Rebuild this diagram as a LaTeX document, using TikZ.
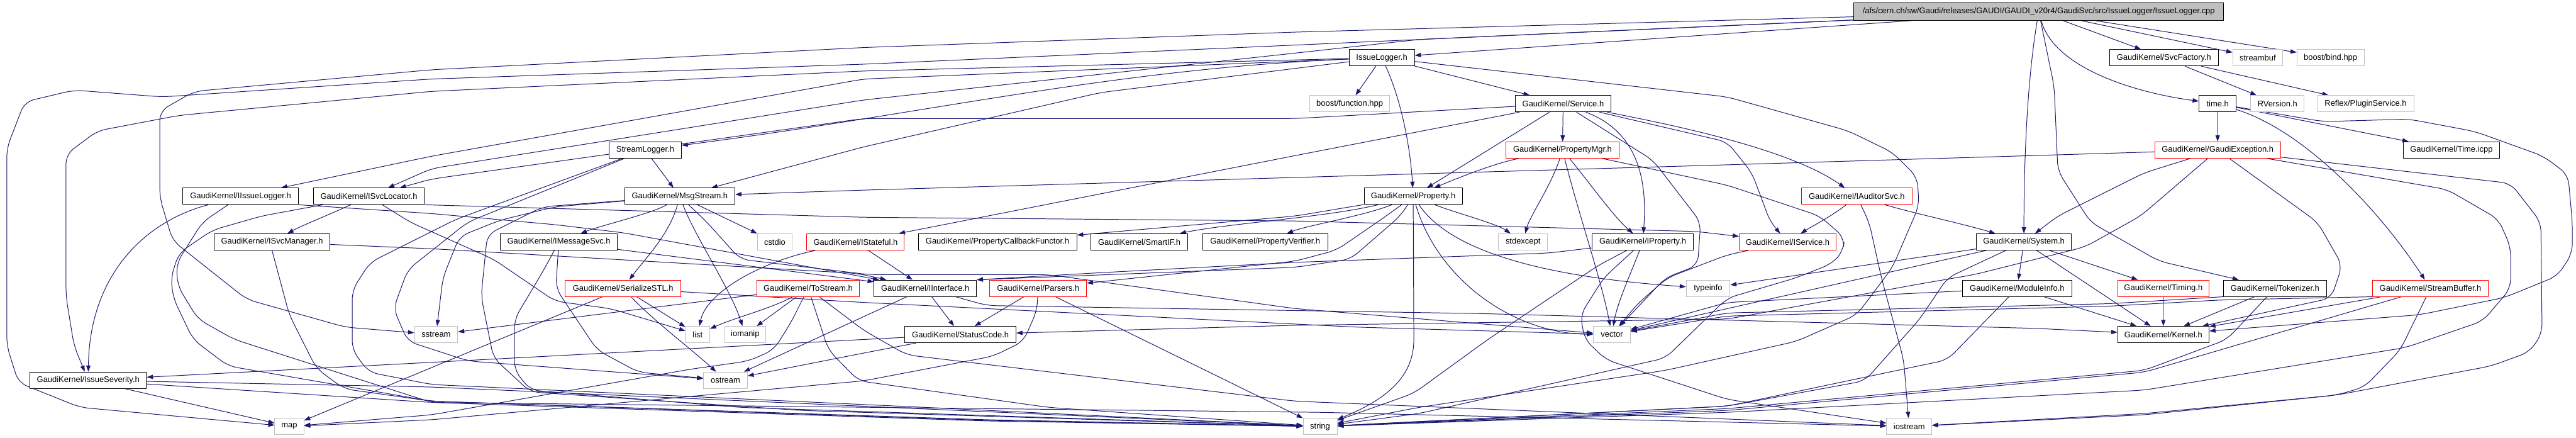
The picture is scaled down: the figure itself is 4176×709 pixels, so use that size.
\documentclass[tikz,border=0pt]{standalone}
\usepackage{fontspec}
\setmainfont{Liberation Sans}
\usetikzlibrary{arrows.meta}
\pgfdeclarelayer{bg}
\pgfsetlayers{bg,main}
\definecolor{edgec}{HTML}{191970}
\definecolor{grayb}{HTML}{BFBFBF}
\begin{document}
\begin{tikzpicture}[x=1pt,y=-1pt,
  nb/.style={draw=black, line width=1pt, rectangle, inner sep=0pt, minimum height=26.5pt, fill=white, font=\fontsize{13.2}{15}\selectfont},
  nred/.style={nb, draw=red},
  ngray/.style={nb, draw=grayb},
  edg/.style={draw=edgec, line width=1pt, -{Triangle[length=10pt,width=7pt]}},
  edgr/.style={edg, rounded corners=15pt}]
\useasboundingbox (0,0) rectangle (4176,709);
% ---------- nodes ----------
\node[nb, fill=grayb, minimum width=600pt, minimum height=28pt] (root) at (3305,19) {/afs/cern.ch/sw/Gaudi/releases/GAUDI/GAUDI\_v20r4/GaudiSvc/src/IssueLogger/IssueLogger.cpp};
% row 2
\node[nb, minimum width=106pt] (issuelogger) at (2240,93.5) {IssueLogger.h};
\node[nb, minimum width=176pt] (svcfactory) at (3508,93.5) {GaudiKernel/SvcFactory.h};
\node[ngray, minimum width=81pt] (streambuf) at (3660,93.5) {streambuf};
\node[ngray, minimum width=109pt] (bind) at (3778,93.5) {boost/bind.hpp};
% row 3
\node[ngray, minimum width=129pt] (function) at (2188,168) {boost/function.hpp};
\node[nb, minimum width=155pt] (service) at (2534,168) {GaudiKernel/Service.h};
\node[nb, minimum width=60pt] (timeh) at (3595,168) {time.h};
\node[ngray, minimum width=87pt] (rversion) at (3692,168) {RVersion.h};
\node[ngray, minimum width=156pt] (plugin) at (3835,168) {Reflex/PluginService.h};
% row 4
\node[nb, minimum width=117pt] (streamlogger) at (1046,243) {StreamLogger.h};
\node[nred, minimum width=183pt] (propmgr) at (2533,243) {GaudiKernel/PropertyMgr.h};
\node[nred, minimum width=204pt] (gexc) at (3595,243) {GaudiKernel/GaudiException.h};
\node[nb, minimum width=156pt] (timeicpp) at (3974,243) {GaudiKernel/Time.icpp};
% row 5
\node[nb, minimum width=187pt] (iissuelogger) at (390,318) {GaudiKernel/IIssueLogger.h};
\node[nb, minimum width=180pt] (isvcloc) at (598,318) {GaudiKernel/ISvcLocator.h};
\node[nb, minimum width=179pt] (msgstream) at (1102,318) {GaudiKernel/MsgStream.h};
\node[nb, minimum width=159pt] (property) at (2291,318) {GaudiKernel/Property.h};
\node[nred, minimum width=180pt] (iauditor) at (3010,318) {GaudiKernel/IAuditorSvc.h};
% row 6
\node[nb, minimum width=188pt] (isvcmgr) at (441,392) {GaudiKernel/ISvcManager.h};
\node[nb, minimum width=189pt] (imsgsvc) at (906,392) {GaudiKernel/IMessageSvc.h};
\node[ngray, minimum width=57pt] (cstdio) at (1256,392) {cstdio};
\node[nred, minimum width=158pt] (istateful) at (1387,392) {GaudiKernel/IStateful.h};
\node[nb, minimum width=257pt] (pcbf) at (1617,392) {GaudiKernel/PropertyCallbackFunctor.h};
\node[nb, minimum width=157pt] (smartif) at (1847,392) {GaudiKernel/SmartIF.h};
\node[nb, minimum width=203pt] (pverifier) at (2051,392) {GaudiKernel/PropertyVerifier.h};
\node[ngray, minimum width=79pt] (stdexcept) at (2469,392) {stdexcept};
\node[nb, minimum width=165pt] (iproperty) at (2663,392) {GaudiKernel/IProperty.h};
\node[nred, minimum width=157pt] (iservice) at (2898,392) {GaudiKernel/IService.h};
\node[nb, minimum width=154pt] (system) at (3281,392) {GaudiKernel/System.h};
% row 7
\node[nred, minimum width=187pt] (serstl) at (1010,467) {GaudiKernel/SerializeSTL.h};
\node[nred, minimum width=166pt] (tostream) at (1310,467) {GaudiKernel/ToStream.h};
\node[nb, minimum width=166pt] (iinterface) at (1500,467) {GaudiKernel/IInterface.h};
\node[nred, minimum width=157pt] (parsers) at (1683,467) {GaudiKernel/Parsers.h};
\node[ngray, minimum width=71pt] (typeinfo) at (2769,467) {typeinfo};
\node[nb, minimum width=177pt] (moduleinfo) at (3270,467) {GaudiKernel/ModuleInfo.h};
\node[nred, minimum width=148pt] (timing) at (3507,467) {GaudiKernel/Timing.h};
\node[nb, minimum width=167pt] (tokenizer) at (3688,467) {GaudiKernel/Tokenizer.h};
\node[nred, minimum width=188pt] (streambuffer) at (3940,467) {GaudiKernel/StreamBuffer.h};
% row 8
\node[ngray, minimum width=70pt] (sstream) at (707,542) {sstream};
\node[ngray, minimum width=39pt] (list) at (1131,542) {list};
\node[ngray, minimum width=67pt] (iomanip) at (1208,542) {iomanip};
\node[nb, minimum width=180pt] (statuscode) at (1557,542) {GaudiKernel/StatusCode.h};
\node[ngray, minimum width=60pt] (vector) at (2613,542) {vector};
\node[nb, minimum width=148pt] (kernel) at (3507,542) {GaudiKernel/Kernel.h};
% row 9
\node[nb, minimum width=189pt] (issuesev) at (143,616) {GaudiKernel/IssueSeverity.h};
\node[ngray, minimum width=71pt] (ostream) at (1176,616) {ostream};
% row 10
\node[ngray, minimum width=47pt] (map) at (469,691) {map};
\node[ngray, minimum width=55pt] (string) at (2140,691) {string};
\node[ngray, minimum width=73pt] (iostream) at (3095,691) {iostream};
% ---------- edges ----------
\begin{pgfonlayer}{bg}
\fill[white] (0,0) rectangle (4176,709);
% root
\draw[edg] (root) -- (issuelogger);
\draw[edg] (root) -- (svcfactory);
\draw[edg] (root) -- (streambuf);
\draw[edg] (root) -- (bind);
\draw[edg] (root) .. controls (3330,110) and (3460,150) .. (timeh);
\draw[edg] (root) .. controls (3283,150) and (3281,300) .. (system);
\draw[edgr] (root) -- (3330,140) -- (3336,277) -- (3389,360) -- (3500,423) -- (tokenizer);
\draw[edgr] (root) -- (2100,52) -- (1400,77) -- (700,113) -- (315,148) -- (259,180) -- (259,320) -- (280,390) -- (400,485) -- (560,530) -- (sstream);
\draw[edgr] (root) -- (2100,73) -- (1400,104) -- (700,128) -- (263,157) -- (120,146) -- (40,165) -- (11,240) -- (11,560) -- (30,620) -- (130,660) -- (map);
\draw[edgr] (root) -- (2300,64) -- (2100,86) -- (1400,162) -- (700,273) -- (isvcloc);
% IssueLogger.h
\draw[edg] (issuelogger) -- (function);
\draw[edg] (issuelogger) -- (service);
\draw[edg] (issuelogger) .. controls (2275,170) and (2287,250) .. (property);
\draw[edgr] (issuelogger) -- (1400,115) -- (700,148) -- (290,187) -- (158,212) -- (107,250) -- (107,480) -- (120,560) -- (issuesev);
\draw[edgr] (issuelogger) -- (1400,128) -- (700,253) -- (iissuelogger);
\draw[edg] (issuelogger) .. controls (1800,112) and (1500,185) .. (streamlogger);
\draw[edgr] (issuelogger) -- (1784,150) -- (1400,238) -- (msgstream);
\draw[edgr] (issuelogger) -- (2800,157) -- (2996,212) -- (3068,247) -- (3108,287) -- (3111,333) -- (3068,433) -- (3010,510) -- (2912,553) -- (2700,600) -- (2300,660) -- (string);
% SvcFactory
\draw[edg] (svcfactory) -- (rversion);
\draw[edg] (svcfactory) -- (plugin);
% Service
\draw[edg] (service) -- (propmgr);
\draw[edg] (service) -- (property);
\draw[edgr] (service) -- (2100,192) -- (1400,192) -- (700,290) -- (isvcloc);
\draw[edgr] (service) -- (2100,252) -- (1601,350) -- (istateful);
\draw[edg] (service) .. controls (2660,215) and (2670,300) .. (iproperty);
\draw[edgr] (service) -- (2680,260) -- (2757,360) -- (2752,430) -- (2700,450) -- (vector);
\draw[edg] (service) .. controls (2700,200) and (2900,240) .. (iauditor);
\draw[edgr] (service) -- (2800,230) -- (2840,280) -- (2870,360) -- (iservice);
% time.h
\draw[edg] (timeh) -- (gexc);
\draw[edg] (timeh) -- (timeicpp);
\draw[edg] (timeh) .. controls (3730,210) and (3850,330) .. (streambuffer);
\draw[edgr] (timeh) -- (3766,197) -- (3905,193) -- (4012,213) -- (4123,253) -- (4163,283) -- (4170,360) -- (4170,410) -- (4146,447) -- (4060,482) -- (3922,510) -- (kernel);
% StreamLogger
\draw[edg] (streamlogger) -- (msgstream);
\draw[edgr] (streamlogger) -- (758,360) -- (661,437) -- (638,500) -- (661,553) -- (760,585) -- (ostream);
\draw[edgr] (streamlogger) -- (740,355) -- (600,425) -- (571,470) -- (571,567) -- (598,603) -- (700,623) -- (1500,660) -- (string);
% MsgStream
\draw[edg] (msgstream) .. controls (1060,345) and (975,365) .. (imsgsvc);
\draw[edg] (msgstream) .. controls (1085,380) and (1045,420) .. (serstl);
\draw[edg] (msgstream) -- (cstdio);
\draw[edg] (msgstream) .. controls (1125,380) and (1185,470) .. (iomanip);
\draw[edgr] (msgstream) -- (900,335) -- (810,357) -- (745,383) -- (718,450) -- (sstream);
\draw[edgr] (msgstream) -- (880,335) -- (790,380) -- (780,480) -- (800,580) -- (860,635) -- (1300,665) -- (string);
\draw[edgr] (msgstream) -- (1146,360) -- (1200,420) -- (1410,445) -- (1700,445) -- (2100,500) -- (vector);
% IMessageSvc
\draw[edg] (imsgsvc) -- (iinterface);
\draw[edgr] (imsgsvc) -- (880,440) -- (834,517) -- (834,600) -- (860,632) -- (1200,660) -- (string);
\draw[edgr] (imsgsvc) -- (901,467) -- (968,567) -- (1035,603) -- (ostream);
% SerializeSTL
\draw[edg] (serstl) -- (map);
\draw[edg] (serstl) .. controls (1060,520) and (1120,565) .. (ostream);
\draw[edg] (serstl) -- (list);
\draw[edgr] (serstl) -- (1400,490) -- (2200,530) -- (vector);
% ToStream
\draw[edg] (tostream) .. controls (1250,500) and (1190,515) .. (list);
\draw[edg] (tostream) -- (iomanip);
\draw[edg] (tostream) -- (sstream);
\draw[edgr] (tostream) -- (1282,523) -- (1254,567) -- (1213,585) -- (1120,598) -- (700,672) -- (map);
\draw[edgr] (tostream) -- (1343,567) -- (1392,617) -- (1700,660) -- (string);
\draw[edgr] (tostream) -- (1400,535) -- (1470,575) -- (2100,650) -- (iostream);
% IStateful
\draw[edg] (istateful) -- (iinterface);
\draw[edg] (istateful) .. controls (1230,425) and (1145,475) .. (list);
% ISvcLocator
\draw[edg] (isvcloc) .. controls (540,345) and (490,365) .. (isvcmgr);
\draw[edgr] (isvcloc) -- (665,360) -- (800,420) -- (900,488) -- (990,500) -- (list);
\draw[edgr] (isvcloc.south east) -- (1400,352) -- (2100,358) -- (2750,375) -- (iservice);
\draw[edgr] (isvcloc) -- (424,350) -- (344,373) -- (290,410) -- (277,450) -- (281,483) -- (313,550) -- (370,593) -- (700,650) -- (1600,680) -- (string);
% IIssueLogger
\draw[edg] (iissuelogger) .. controls (230,360) and (145,450) .. (issuesev);
\draw[edgr] (iissuelogger.south east) -- (700,346) -- (900,364) -- (1010,377) -- (iinterface);
\draw[edgr] (iissuelogger) -- (328,360) -- (286,427) -- (288,463) -- (321,517) -- (380,550) -- (700,652) -- (1600,682) -- (string);
% ISvcManager
\draw[edgr] (isvcmgr) -- (700,403) -- (1390,443) -- (iinterface);
\draw[edgr] (isvcmgr.south) -- (469,510) -- (513,597) -- (558,630) -- (700,650) -- (1600,681) -- (string);
% Property
\draw[edgr] (property) -- (2100,350) -- (pcbf);
\draw[edg] (property) .. controls (2150,352) and (1990,362) .. (smartif);
\draw[edg] (property) .. controls (2210,350) and (2120,365) .. (pverifier);
\draw[edg] (property) .. controls (2360,345) and (2425,362) .. (stdexcept);
\draw[edg] (property.south) -- (2292,550) .. controls (2292,615) and (2240,650) .. (string);
\draw[edg] (property) .. controls (2360,420) and (2550,452) .. (typeinfo);
\draw[edg] (property) .. controls (2330,450) and (2450,540) .. (vector);
\draw[edgr] (property) -- (2247,350) -- (2167,405) -- (2100,423) -- (parsers);
\draw[edgr] (property) -- (2270,350) -- (2189,420) -- (2100,433) -- (iinterface.north east);
% IProperty
\draw[edgr] (iproperty) -- (2510,410) -- (2100,425) -- (1780,442) -- (iinterface.north east);
\draw[edgr] (iproperty) -- (2591,430) -- (2412,550) -- (2292,637) -- (string);
\draw[edg] (iproperty) .. controls (2645,440) and (2622,490) .. (vector);
\draw[edgr] (iproperty) -- (2600,450) -- (2562,510) -- (2569,550) -- (2604,583) -- (2800,647) -- (iostream);
% IService
\draw[edgr] (iservice) -- (2800,413) -- (2703,450) -- (2654,493) -- (vector);
% System
\draw[edg] (system) -- (moduleinfo);
\draw[edg] (system) -- (timing);
\draw[edg] (system) -- (kernel);
\draw[edg] (system) -- (typeinfo);
\draw[edgr] (system) -- (2800,500) -- (vector);
\draw[edgr] (system) -- (3157,450) -- (3112,517) -- (3023,617) -- (2800,658) -- (string);
% ModuleInfo
\draw[edg] (moduleinfo) -- (kernel);
\draw[edgr] (moduleinfo) -- (3157,583) -- (2800,658) -- (string);
\draw[edgr] (moduleinfo) -- (2800,490) -- (vector);
% Timing
\draw[edg] (timing) -- (kernel);
% Tokenizer
\draw[edg] (tokenizer) -- (kernel);
\draw[edgr] (tokenizer.south west) -- (3420,492) -- (2800,507) -- (vector);
\draw[edgr] (tokenizer) -- (3610,550) -- (3476,600) -- (2800,662) -- (string);
% StreamBuffer
\draw[edg] (streambuffer) -- (kernel);
\draw[edgr] (streambuffer.south west) -- (3600,486) -- (3420,496) -- (2800,512) -- (vector);
\draw[edgr] (streambuffer) -- (3476,603) -- (2800,665) -- (string);
\draw[edgr] (streambuffer) -- (3891,567) -- (3833,627) -- (3788,640) -- (3476,670) -- (iostream);
% GaudiException
\draw[edgr] (gexc) -- (2800,267) -- (1400,308) -- (msgstream);
\draw[edgr] (gexc) -- (3476,280) -- (3336,350) -- (system);
\draw[edgr] (gexc) -- (3757,360) -- (3797,430) -- (3779,483) -- (kernel);
\draw[edgr] (gexc) -- (3967,307) -- (4050,355) -- (4070,400) -- (4070,467) -- (4025,520) -- (3900,563) -- (3476,632) -- (2800,668) -- (string);
\draw[edgr] (gexc) -- (4070,297) -- (4119,360) -- (4121,540) -- (4101,570) -- (4038,593) -- (3788,640) -- (3476,672) -- (iostream);
\draw[edgr] (gexc) -- (3470,350) -- (3380,400) -- (3200,445) -- (3112,460) -- (2800,517) -- (2100,527) -- (statuscode);
% IInterface
\draw[edg] (iinterface) -- (statuscode);
\draw[edgr] (iinterface) -- (1400,513) -- (ostream);
\draw[edgr] (iinterface) -- (1600,495) -- (2400,508) -- (3300,532) -- (kernel);
% Parsers
\draw[edg] (parsers) -- (statuscode);
\draw[edgr] (parsers) -- (1681,503) -- (1659,553) -- (1610,577) -- (1400,617) -- (700,680) -- (map);
\draw[edg] (parsers) -- (string);
% StatusCode
\draw[edgr] (statuscode) -- (1400,550) -- (700,587) -- (issuesev);
\draw[edgr] (statuscode) -- (1400,572) -- (ostream);
% IssueSeverity
\draw[edg] (issuesev) -- (map);
\draw[edgr] (issuesev) -- (700,627) -- (string);
\draw[edgr] (issuesev) -- (700,652) -- (2140,668) -- (iostream);
% IAuditorSvc
\draw[edg] (iauditor) .. controls (2970,350) and (2935,368) .. (iservice);
\draw[edgr] (iauditor) -- (3030,360) -- (3050,450) -- (3086,583) -- (iostream);
\draw[edg] (iauditor) .. controls (3100,345) and (3180,362) .. (system);
% PropertyMgr
\draw[edg] (propmgr) .. controls (2420,265) and (2360,290) .. (property);
\draw[edg] (propmgr) .. controls (2515,300) and (2480,350) .. (stdexcept);
\draw[edg] (propmgr) .. controls (2560,350) and (2595,450) .. (vector);
\draw[edg] (propmgr) .. controls (2580,300) and (2615,350) .. (iproperty);
\draw[edgr] (propmgr) -- (2800,300) -- (2950,350) -- (2990,385) -- (2988,407) -- (2970,427) -- (2912,450) -- (2800,483) -- (2700,580) -- (2300,670) -- (string);
\end{pgfonlayer}
\end{tikzpicture}
\end{document}
